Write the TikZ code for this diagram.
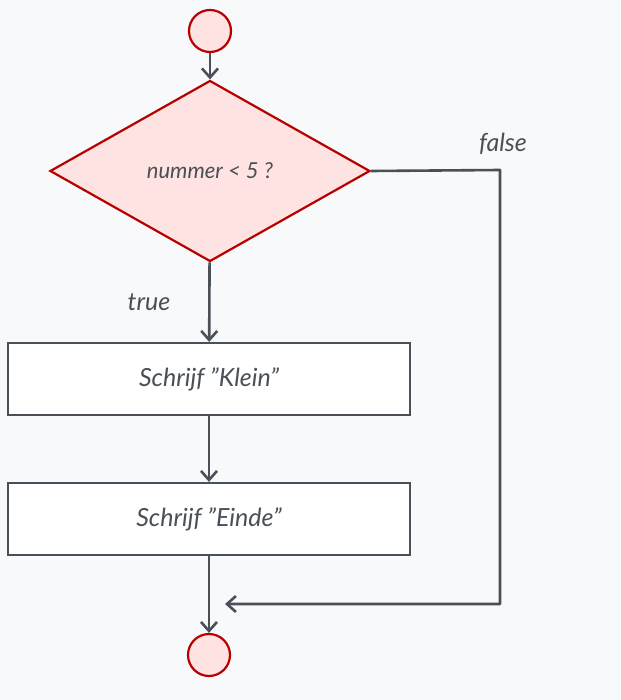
\documentclass[tikz,border=0pt]{standalone}
\usepackage{fontspec}
\setmainfont{Lato}
\usetikzlibrary{shapes.geometric, arrows.meta, positioning}
\definecolor{bgpaper}{HTML}{F8F9FA}
\definecolor{inkgray}{HTML}{495057}
\definecolor{termred}{HTML}{B80000}
\definecolor{termfill}{HTML}{FFE3E3}

\begin{document}
\begin{tikzpicture}[x=1pt, y=-1pt,
  term/.style={circle, draw=termred, fill=termfill, line width=2.2pt, minimum size=42pt, inner sep=0pt},
  cond/.style={diamond, draw=termred, fill=termfill, line width=2.2pt, minimum width=320pt, minimum height=181pt,
               inner sep=0pt, font=\fontsize{22}{26}\selectfont\itshape, text=inkgray},
  act/.style={rectangle, draw=inkgray, fill=white, line width=2.2pt, minimum width=402pt, minimum height=72pt,
              font=\fontsize{25}{30}\selectfont\itshape, text=inkgray},
  flow/.style={draw=inkgray, line width=2.6pt, -{Straight Barb[length=9pt, width=16pt]}},
  lbl/.style={font=\fontsize{25}{30}\selectfont\itshape, text=inkgray},
]
% Background
\fill[bgpaper] (0,0) rectangle (620,700);

% Nodes
\node[term] (start) at (210,31) {};
\node[cond] (check) at (210,171) {nummer < 5 ?};
\node[act] (klein) at (209,379) {Schrijf ”Klein”};
\node[act] (einde) at (209,519) {Schrijf ”Einde”};
\node[term] (stop) at (209,655) {};

% Corners of the false branch
\coordinate (fturn) at (500,170);
\coordinate (fdown) at (500,604);
\coordinate (fmerge) at (225,604);

% Labels
\node[lbl] (truelbl) at (149,302) {true};
\node[lbl] (falselbl) at (503,144) {false};

% Arrows
\draw[flow] (start) -- (check);
\draw[flow] (check) -- (klein);
\draw[flow] (klein) -- (einde);
\draw[flow] (einde) -- (stop);
\draw[flow, line join=round] (check.east) -- (fturn) -- (fdown) -- (fmerge);
\end{tikzpicture}
\end{document}
